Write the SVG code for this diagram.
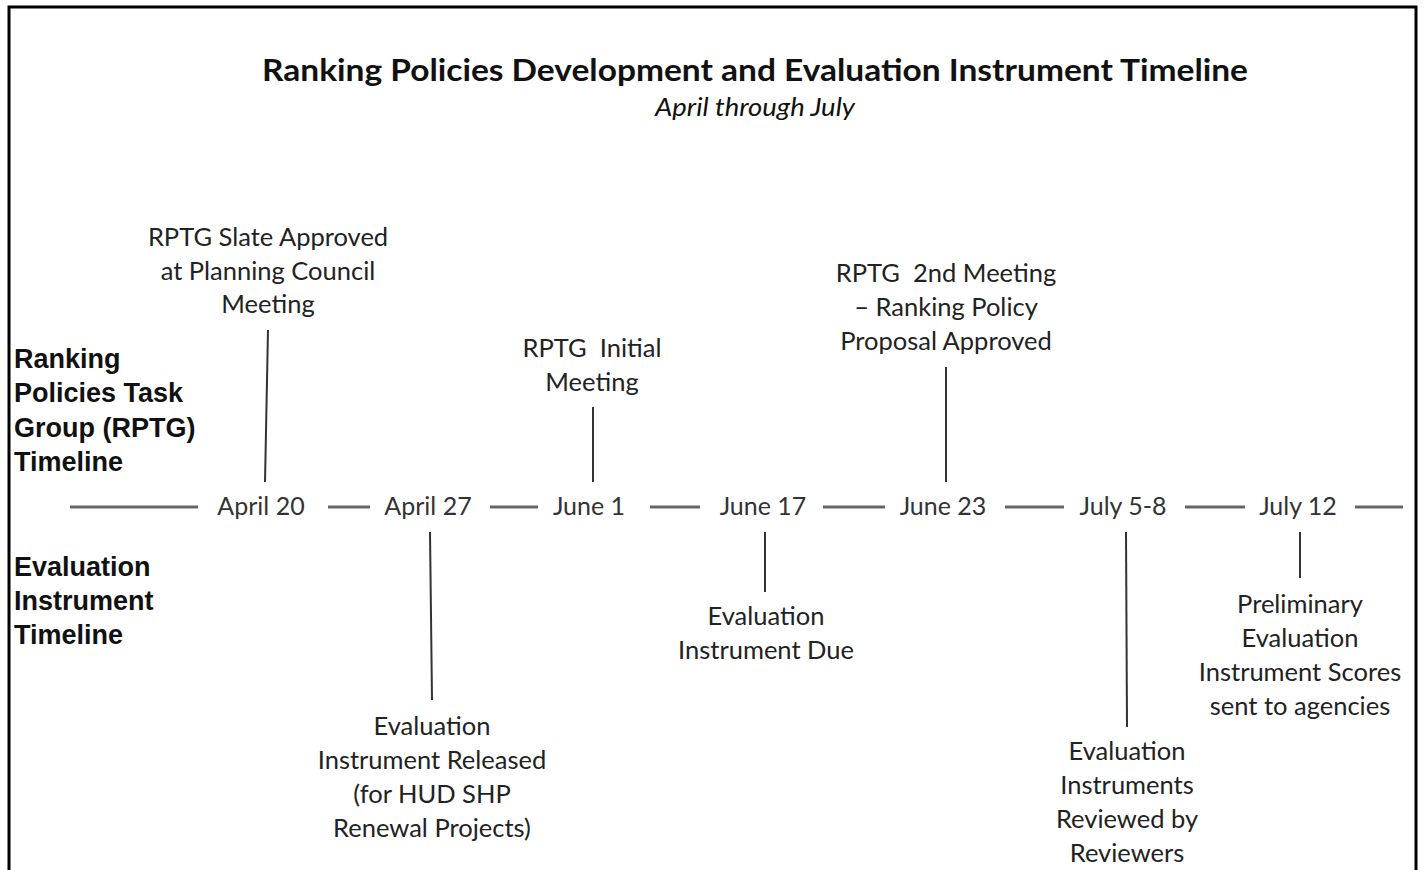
<svg xmlns="http://www.w3.org/2000/svg" width="1425" height="870" viewBox="0 0 1425 870">
<style>
.lbl{font-family:Lato,"Open Sans",sans-serif;font-size:25.5px;fill:#222;text-anchor:middle}
.date{font-family:Lato,"Open Sans",sans-serif;font-size:25px;fill:#333;text-anchor:middle}
.side{font-family:"Liberation Sans",Arial,sans-serif;font-size:27px;font-weight:bold;fill:#111}
.title{font-family:Lato,"Open Sans",sans-serif;font-size:31px;font-weight:bold;fill:#111;text-anchor:middle}
.sub{font-family:Lato,"Open Sans",sans-serif;font-size:26px;font-style:italic;fill:#111;text-anchor:middle}
.tick{stroke:#333;stroke-width:2;fill:none}
.dash{stroke:#666;stroke-width:3;fill:none}
</style>
<rect x="0" y="0" width="1425" height="870" fill="#fff"/>
<rect x="9" y="7" width="1407" height="900" fill="none" stroke="#000" stroke-width="3"/>
<g id="title">
<text class="title" x="755" y="81" textLength="986" lengthAdjust="spacingAndGlyphs">Ranking Policies Development and Evaluation Instrument Timeline</text>
<text class="sub" x="755" y="116" textLength="200" lengthAdjust="spacingAndGlyphs">April through July</text>
</g>
<g id="side-rptg">
<text class="side" x="14" y="368">Ranking</text>
<text class="side" x="14" y="402">Policies Task</text>
<text class="side" x="14" y="437">Group (RPTG)</text>
<text class="side" x="14" y="471">Timeline</text>
</g>
<g id="side-eval">
<text class="side" x="14" y="576">Evaluation</text>
<text class="side" x="14" y="610">Instrument</text>
<text class="side" x="14" y="644">Timeline</text>
</g>
<g id="connectors">
<line class="dash" x1="70" y1="507" x2="198" y2="507"/>
<line class="dash" x1="328" y1="507" x2="370" y2="507"/>
<line class="dash" x1="490" y1="507" x2="538" y2="507"/>
<line class="dash" x1="650" y1="507" x2="700" y2="507"/>
<line class="dash" x1="823" y1="507" x2="885" y2="507"/>
<line class="dash" x1="1005" y1="507" x2="1064" y2="507"/>
<line class="dash" x1="1185" y1="507" x2="1245" y2="507"/>
<line class="dash" x1="1355" y1="507" x2="1403" y2="507"/>
<line class="tick" x1="268" y1="330" x2="265" y2="482"/>
<line class="tick" x1="593" y1="407" x2="593" y2="482"/>
<line class="tick" x1="946" y1="367" x2="946" y2="482"/>
<line class="tick" x1="430" y1="532" x2="432" y2="700"/>
<line class="tick" x1="765" y1="532" x2="765" y2="592"/>
<line class="tick" x1="1126" y1="532" x2="1127" y2="727"/>
<line class="tick" x1="1300" y1="532" x2="1300" y2="578"/>
</g>
<g id="date-april20"><text class="date" x="261" y="515">April 20</text></g>
<g id="date-april27"><text class="date" x="428" y="515">April 27</text></g>
<g id="date-june1"><text class="date" x="589" y="515">June 1</text></g>
<g id="date-june17"><text class="date" x="763" y="515">June 17</text></g>
<g id="date-june23"><text class="date" x="943" y="515">June 23</text></g>
<g id="date-july58"><text class="date" x="1123" y="515">July 5-8</text></g>
<g id="date-july12"><text class="date" x="1298" y="515">July 12</text></g>
<g id="ev-slate">
<text class="lbl" x="268" y="246">RPTG Slate Approved</text>
<text class="lbl" x="268" y="280">at Planning Council</text>
<text class="lbl" x="268" y="313">Meeting</text>
</g>
<g id="ev-initial">
<text class="lbl" x="592" y="357" xml:space="preserve">RPTG  Initial</text>
<text class="lbl" x="592" y="391">Meeting</text>
</g>
<g id="ev-second">
<text class="lbl" x="946" y="282" xml:space="preserve">RPTG  2nd Meeting</text>
<text class="lbl" x="946" y="316">– Ranking Policy</text>
<text class="lbl" x="946" y="350">Proposal Approved</text>
</g>
<g id="ev-released">
<text class="lbl" x="432" y="735">Evaluation</text>
<text class="lbl" x="432" y="769">Instrument Released</text>
<text class="lbl" x="432" y="803">(for HUD SHP</text>
<text class="lbl" x="432" y="837">Renewal Projects)</text>
</g>
<g id="ev-due">
<text class="lbl" x="766" y="625">Evaluation</text>
<text class="lbl" x="766" y="659">Instrument Due</text>
</g>
<g id="ev-reviewed">
<text class="lbl" x="1127" y="760">Evaluation</text>
<text class="lbl" x="1127" y="794">Instruments</text>
<text class="lbl" x="1127" y="828">Reviewed by</text>
<text class="lbl" x="1127" y="862">Reviewers</text>
</g>
<g id="ev-scores">
<text class="lbl" x="1300" y="613">Preliminary</text>
<text class="lbl" x="1300" y="647">Evaluation</text>
<text class="lbl" x="1300" y="681">Instrument Scores</text>
<text class="lbl" x="1300" y="715">sent to agencies</text>
</g>
</svg>
